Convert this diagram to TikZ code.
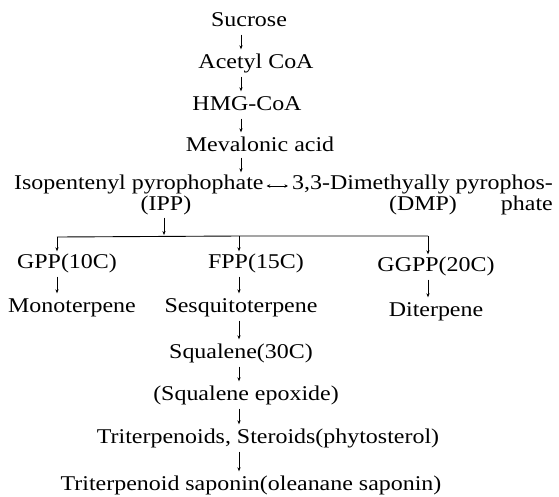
\documentclass[tikz,border=0pt]{standalone}
\usepackage{fontspec}
\setmainfont[FakeStretch=1.14]{Liberation Serif}
\usetikzlibrary{arrows.meta}
\begin{document}
\begin{tikzpicture}[x=1pt,y=-1pt,
  lbl/.style={inner sep=0pt, font=\fontsize{21}{24}\selectfont, text height=14.5pt, text depth=4.5pt},
  arr/.style={line width=0.8pt, -{Stealth[length=4pt,width=3.2pt]}, shorten <=4pt, shorten >=4pt},
  tick/.style={line width=0.8pt, -{Stealth[length=4pt,width=3.2pt]}, shorten >=2pt},
  dbl/.style={line width=0.7pt, {Stealth[length=3.5pt,width=3.5pt]}-{Stealth[length=3.5pt,width=3.5pt]}, shorten <=3pt, shorten >=4pt},
  brk/.style={line width=0.9pt}]
\useasboundingbox (0,0) rectangle (559,496);
\coordinate (col) at (241,0);
\node[lbl] (suc) at (249,21) {Sucrose};
\node[lbl] (ace) at (256,63) {Acetyl CoA};
\node[lbl] (hmg) at (247,105) {HMG-CoA};
\node[lbl] (mev) at (260,146) {Mevalonic acid};
\node[lbl, anchor=west] (ipp) at (14,184) {Isopentenyl pyrophophate};
\node[lbl, anchor=east] (dmp) at (553,184) {3,3-Dimethyally pyrophos-};
\node[lbl] (ippa) at (166,205) {(IPP)};
\node[lbl] (dmpa) at (423,205) {(DMP)};
\node[lbl, anchor=east] (phate) at (553,205) {phate};
\coordinate (bl) at (57,237);
\coordinate (bm) at (239,236);
\coordinate (br) at (428,236);
\coordinate (bi) at (164,236);
\node[lbl] (gpp) at (67,263) {GPP(10C)};
\node[lbl] (fpp) at (256,263) {FPP(15C)};
\node[lbl] (ggpp) at (436,266) {GGPP(20C)};
\node[lbl] (mono) at (72,307) {Monoterpene};
\node[lbl] (sesq) at (241,307) {Sesquitoterpene};
\node[lbl] (dit) at (436,311) {Diterpene};
\node[lbl] (squa) at (241,353) {Squalene(30C)};
\node[lbl] (epox) at (246,395) {(Squalene epoxide)};
\node[lbl] (trit) at (268,438) {Triterpenoids, Steroids(phytosterol)};
\node[lbl] (sapo) at (251,485) {Triterpenoid saponin(oleanane saponin)};
\draw[arr] (suc.south -| col) -- (ace.north -| col);
\draw[arr] (ace.south -| col) -- (hmg.north -| col);
\draw[arr] (hmg.south -| col) -- (mev.north -| col);
\draw[arr, shorten <=2pt, shorten >=2pt] (mev.south -| col) -- (ipp.north -| col);
\draw[dbl] ([yshift=-2pt]ipp.east) -- ([yshift=-2pt]dmp.west);
\draw[arr, shorten >=1pt, shorten <=3pt] (ippa.south -| bi) -- (bi);
\draw[brk] (bl) -- (bm) -- (br);
\draw[tick] (bl) -- (gpp.north -| bl);
\draw[tick] (bm) -- (fpp.north -| bm);
\draw[tick] (br) -- (ggpp.north -| br);
\draw[arr] (gpp.south -| bl) -- (mono.north -| bl);
\draw[arr] (fpp.south -| bm) -- (sesq.north -| bm);
\draw[arr] (ggpp.south -| br) -- (dit.north -| br);
\draw[arr] (sesq.south -| bm) -- (squa.north -| bm);
\draw[arr] (squa.south -| bm) -- (epox.north -| bm);
\draw[arr] (epox.south -| bm) -- (trit.north -| bm);
\draw[arr] (trit.south -| bm) -- (sapo.north -| bm);
\end{tikzpicture}
\end{document}
